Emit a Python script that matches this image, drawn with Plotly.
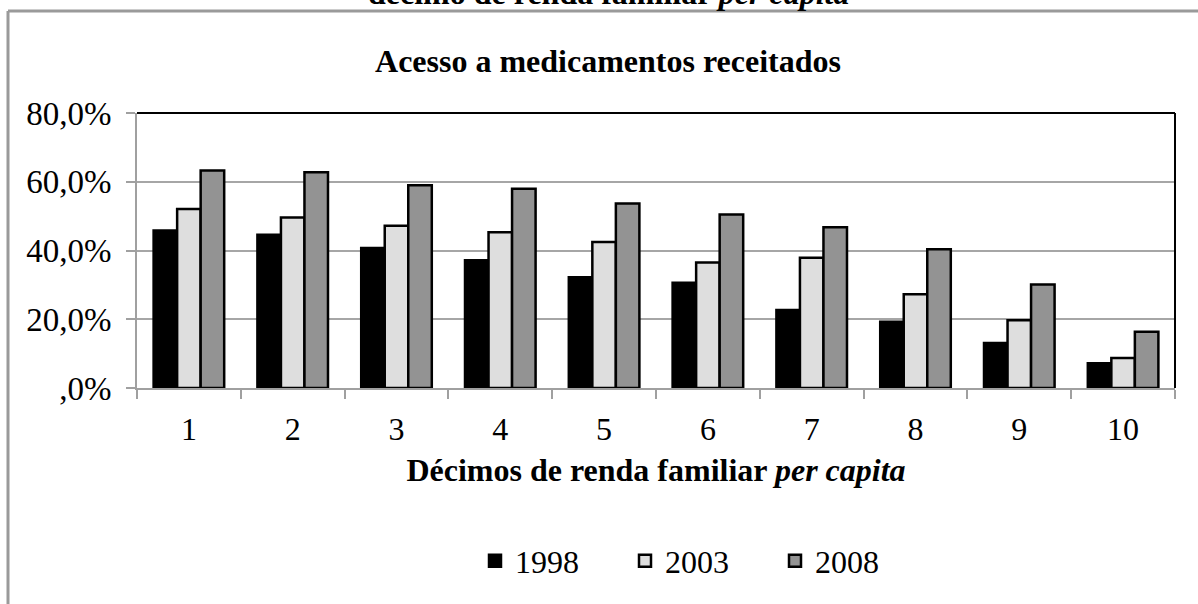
import plotly.graph_objects as go

categories = ["1", "2", "3", "4", "5", "6", "7", "8", "9", "10"]
v1998 = [45.8, 44.6, 40.7, 37.2, 32.2, 30.6, 22.7, 19.3, 13.1, 7.2]
v2003 = [52.1, 49.6, 47.2, 45.3, 42.5, 36.5, 37.9, 27.3, 19.7, 8.7]
v2008 = [63.3, 62.8, 59.0, 58.0, 53.7, 50.5, 46.8, 40.4, 30.1, 16.4]
series_names = ["1998", "2003", "2008"]
y_tickvals = [0, 20, 40, 60, 80]
y_ticktext = [",0%", "20,0%", "40,0%", "60,0%", "80,0%"]

FONT = "Liberation Serif, Times New Roman, serif"
fills = ["#000000", "#dedede", "#939393"]

fig = go.Figure()
for name, vals, col in zip(series_names, [v1998, v2003, v2008], fills):
    fig.add_trace(go.Bar(
        x=categories, y=vals, name=name,
        marker=dict(color=col, line=dict(color="#000000", width=2.5)),
    ))

W, H = 1198, 604
L, R, T, B = 137, 23, 113, 216
pw, ph = W - L - R, H - T - B

def px_x(x):
    return (x - L) / pw

def px_y(y):
    return (H - B - y) / ph

fig.update_layout(
    width=W, height=H,
    margin=dict(l=L, r=R, t=T, b=B, autoexpand=False),
    paper_bgcolor="white", plot_bgcolor="white",
    font=dict(family=FONT, size=32, color="#000000"),
    barmode="group", bargap=0.32, bargroupgap=0,
    title=dict(text="<b>Acesso a medicamentos receitados</b>",
               font=dict(family=FONT, size=32, color="#000000"),
               x=608 / W, xanchor="center", xref="container",
               y=1 - 61 / H, yanchor="middle", yref="container"),
    showlegend=True,
    legend=dict(orientation="h", x=px_x(700), xanchor="center",
                y=px_y(561), yanchor="middle",
                font=dict(family=FONT, size=32, color="#000000"),
                entrywidth=105, entrywidthmode="pixels",
                bgcolor="rgba(0,0,0,0)"),
    xaxis=dict(
        type="category", tickson="boundaries", automargin=False,
        ticks="outside", ticklen=9, tickwidth=2, tickcolor="#a0a0a0",
        showline=True, linecolor="#a0a0a0", linewidth=2,
        showgrid=False, tickfont=dict(size=32), ticklabelstandoff=12,
        title=dict(text="<b>Décimos de renda familiar <i>per capita</i></b>",
                   font=dict(family=FONT, size=32), standoff=12),
    ),
    yaxis=dict(
        range=[0, 80], tickvals=y_tickvals, ticktext=y_ticktext, automargin=False,
        ticks="outside", ticklen=9, tickwidth=2, tickcolor="#a0a0a0",
        showline=True, linecolor="#a0a0a0", linewidth=2,
        showgrid=True, gridcolor="#a6a6a6", gridwidth=2,
        zeroline=False, tickfont=dict(size=33), ticklabelstandoff=8,
    ),
    shapes=[
        dict(type="line", xref="paper", yref="paper", x0=0, x1=1, y0=1, y1=1,
             line=dict(color="#000000", width=2)),
        dict(type="line", xref="paper", yref="paper", x0=1, x1=1, y0=0, y1=1,
             line=dict(color="#000000", width=2)),
        dict(type="line", xref="paper", yref="paper", x0=px_x(8), x1=px_x(1210),
             y0=px_y(11), y1=px_y(11), line=dict(color="#9a9a9a", width=3)),
        dict(type="line", xref="paper", yref="paper", x0=px_x(8), x1=px_x(8),
             y0=px_y(11), y1=px_y(620), line=dict(color="#9a9a9a", width=3)),
    ],
    annotations=[
        dict(text="<b>décimo de renda familiar <i>per capita</i></b>",
             xref="paper", yref="paper", x=px_x(608), y=px_y(-7),
             xanchor="center", yanchor="middle", showarrow=False,
             font=dict(family=FONT, size=32, color="#000000")),
    ],
)

fig.write_html("out.html", config={"displayModeBar": False},
               post_script="document.body.style.margin='0';")
